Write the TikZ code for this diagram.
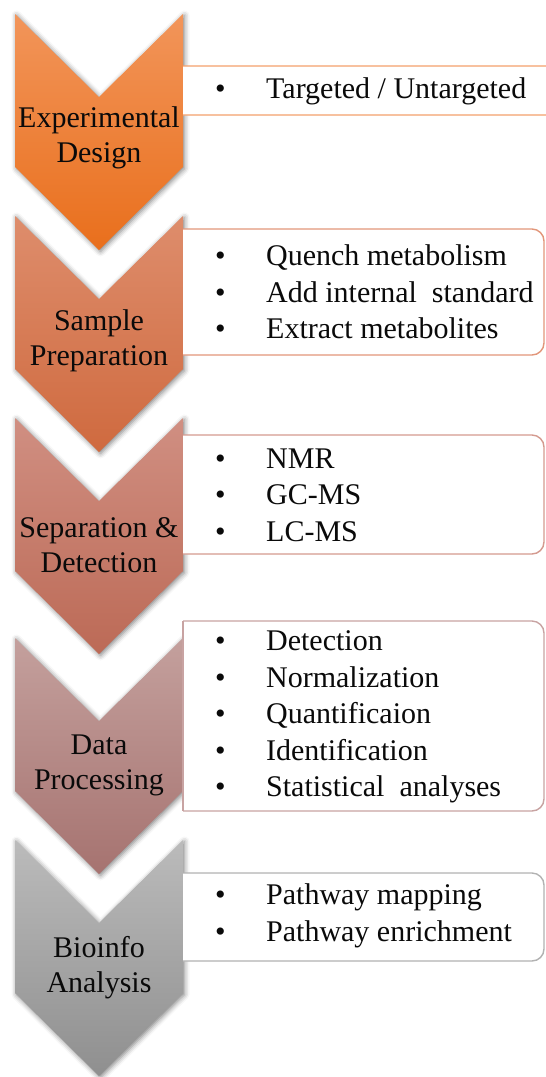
\documentclass[tikz,border=0pt]{standalone}
\usepackage{fontspec}
\IfFontExistsTF{LiberationSerif-Regular.ttf}
  {\setmainfont{LiberationSerif-Regular.ttf}}
  {\setmainfont{Liberation Serif}}
\usetikzlibrary{shadows.blur}

% chevron fills (top / bottom of the gradient) and list-box outlines
\definecolor{cAt}{HTML}{F2955A}\definecolor{cAb}{HTML}{E96F1C}\definecolor{cAl}{HTML}{F4A06C}
\definecolor{cBt}{HTML}{DE8D6C}\definecolor{cBb}{HTML}{CF6A3F}\definecolor{cBl}{HTML}{E2967A}
\definecolor{cCt}{HTML}{D08F82}\definecolor{cCb}{HTML}{BC6A56}\definecolor{cCl}{HTML}{D49A8F}
\definecolor{cDt}{HTML}{C4A09D}\definecolor{cDb}{HTML}{A67370}\definecolor{cDl}{HTML}{C8A3A2}
\definecolor{cEt}{HTML}{BBBBBB}\definecolor{cEb}{HTML}{8F8F8F}\definecolor{cEl}{HTML}{B2B2B2}
\definecolor{ink}{HTML}{0A0A0A}

\tikzset{
  chev/.style 2 args={top color=#1, bottom color=#2, draw=none,
    blur shadow={shadow xshift=1.5pt, shadow yshift=-1.5pt, shadow blur radius=5pt, shadow opacity=50}},
  stagelabel/.style={align=center, text=ink, inner sep=0pt,
    font=\fontsize{30}{35}\selectfont},
  listbox/.style={fill=white, line width=1.4pt, rounded corners=12pt},
  listtext/.style={align=left, anchor=west, text=ink, inner sep=0pt,
    font=\fontsize{30}{36.5}\selectfont},
}
\newcommand{\bul}{\makebox[51pt][l]{\textbullet}}

% chevron with its top edge at #1 (distance from the top of the figure)
\newcommand{\chevpath}[1]{(15,#1) -- (99,#1+83) -- (183,#1) -- (183,#1+153) -- (99,#1+236) -- (15,#1+153) -- cycle}

\begin{document}
\begin{tikzpicture}[x=1pt, y=-1pt]
\useasboundingbox (0,0) rectangle (546,1077);
\clip (0,0) rectangle (546,1077);

% ---- stage chevrons ----
\path[chev={cAt}{cAb}] \chevpath{14};
\path[chev={cBt}{cBb}] \chevpath{216};
\path[chev={cCt}{cCb}] \chevpath{418};
\path[chev={cDt}{cDb}] \chevpath{638};
\path[chev={cEt}{cEb}] \chevpath{840};

% ---- list boxes (square on the left, rounded on the right) ----
\path[listbox, draw=cAl] (183,66) -- (575,66) -- (575,115) -- (183,115);
\path[listbox, draw=cBl] (183,229) -- (544,229) -- (544,355) -- (183,355);
\path[listbox, draw=cCl] (183,435) -- (544,435) -- (544,554) -- (183,554);
\path[listbox, draw=cDl] (183,621) -- (544,621) -- (544,811) -- (183,811);
\draw[cDl, line width=1.4pt] (183,621) -- (183,811);
\path[listbox, draw=cEl] (183,873) -- (544,873) -- (544,961) -- (183,961);

% ---- stage labels ----
\node[stagelabel] (s1) at (99,138) {Experimental\\Design};
\node[stagelabel] (s2) at (99,341) {Sample\\Preparation};
\node[stagelabel] (s3) at (99,545) {Separation \&\\Detection};
\node[stagelabel] (s4) at (99,765) {Data\\Processing};
\node[stagelabel] (s5) at (99,968) {Bioinfo\\Analysis};

% ---- bullet lists ----
\node[listtext] (l1) at (215,91) {\bul Targeted / Untargeted};
\node[listtext] (l2) at (215,292) {\bul Quench metabolism\\ \bul Add internal\ \ standard\\ \bul Extract metabolites};
\node[listtext] (l3) at (215,495) {\bul NMR\\ \bul GC-MS\\ \bul LC-MS};
\node[listtext] (l4) at (215,717) {\bul Detection\\ \bul Normalization\\ \bul Quantificaion\\ \bul Identification\\ \bul Statistical\ \ analyses};
\node[listtext] (l5) at (215,916) {\bul Pathway mapping\\ \bul Pathway enrichment};
\end{tikzpicture}
\end{document}
